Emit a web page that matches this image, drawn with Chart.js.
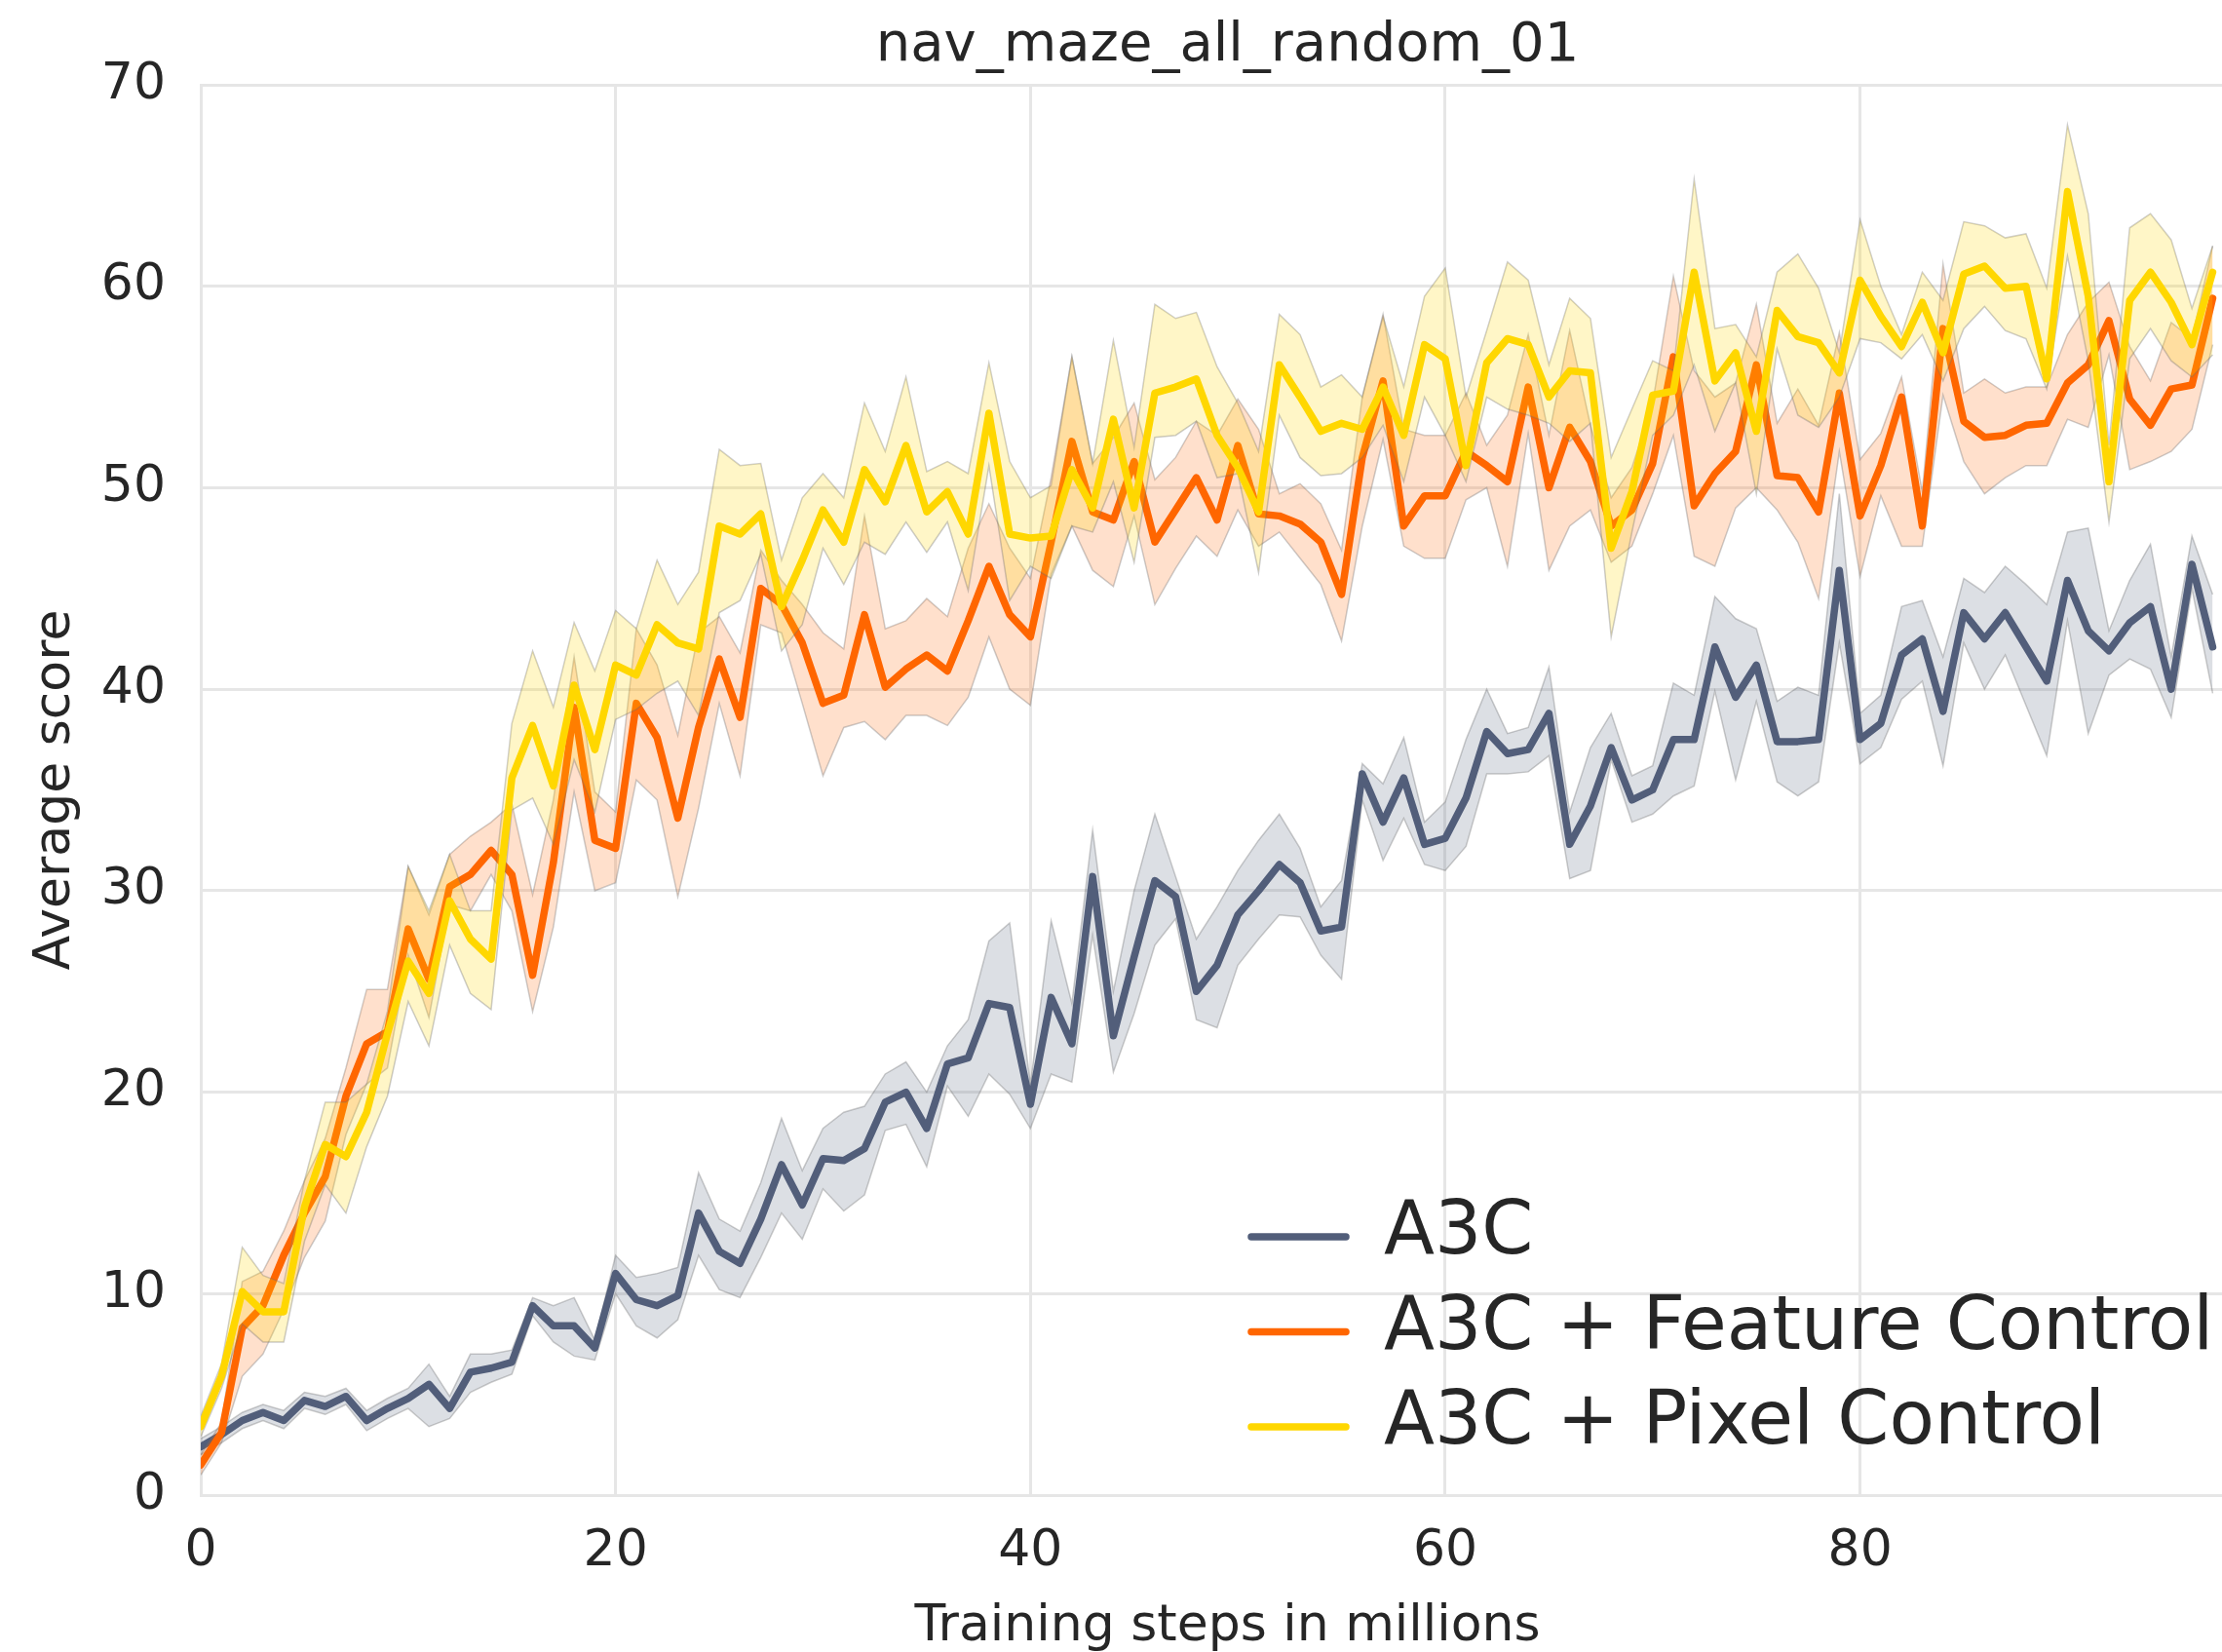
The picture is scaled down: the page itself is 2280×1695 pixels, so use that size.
<!DOCTYPE html>
<html>
<head>
<meta charset="utf-8">
<title>nav_maze_all_random_01</title>
<script src="https://cdn.jsdelivr.net/npm/chart.js@4.4.0/dist/chart.umd.min.js"></script>
<style>
  html, body { margin: 0; padding: 0; background: #ffffff; overflow: hidden; }
  #chart { display: block; }
</style>
</head>
<body>
<canvas id="chart" width="2330" height="1695"></canvas>
<script>
// Average score per million training steps (mean and band edges for each agent)
const a3cMean = [2.4, 3.0, 3.7, 4.1, 3.7, 4.7, 4.4, 4.9, 3.7, 4.3, 4.8, 5.5, 4.3, 6.1, 6.3, 6.6, 9.4, 8.4, 8.4, 7.3,
  11.0, 9.7, 9.4, 9.9, 14.0, 12.1, 11.5, 13.7, 16.4, 14.4, 16.7, 16.6, 17.2, 19.5, 20.0, 18.2, 21.4, 21.7, 24.4, 24.2,
  19.4, 24.7, 22.4, 30.7, 22.8, 26.7, 30.5, 29.7, 25.0, 26.3, 28.8, 30.0, 31.3, 30.4, 28.0, 28.2, 35.8, 33.4, 35.6, 32.3,
  32.6, 34.6, 37.9, 36.8, 37.0, 38.8, 32.3, 34.2, 37.1, 34.5, 35.0, 37.5, 37.5, 42.1, 39.6, 41.2, 37.4, 37.4, 37.5, 45.9,
  37.5, 38.3, 41.7, 42.5, 38.9, 43.8, 42.5, 43.8, 42.1, 40.4, 45.4, 42.9, 41.9, 43.3, 44.1, 40.0, 46.2, 42.1];
const a3cUpper = [2.8, 3.4, 4.1, 4.5, 4.2, 5.1, 4.9, 5.3, 4.2, 4.8, 5.3, 6.5, 4.9, 7.0, 7.0, 7.2, 9.8, 9.4, 9.8, 7.7,
  11.9, 10.8, 11.0, 11.3, 16.0, 13.7, 13.1, 15.5, 18.7, 16.1, 18.2, 19.0, 19.3, 20.9, 21.5, 20.0, 22.3, 23.6, 27.5, 28.4,
  20.4, 28.5, 24.4, 33.0, 25.0, 30.0, 33.8, 30.7, 27.6, 29.2, 31.0, 32.5, 33.8, 32.1, 29.2, 30.5, 36.3, 35.3, 37.6, 33.4,
  34.4, 37.5, 40.0, 37.8, 38.1, 41.1, 33.9, 37.1, 38.8, 35.7, 36.2, 40.3, 39.7, 44.6, 43.5, 43.0, 39.4, 40.1, 39.7, 49.7,
  38.8, 39.7, 44.1, 44.4, 41.6, 45.5, 44.8, 46.1, 45.2, 44.2, 47.8, 48.0, 42.9, 45.4, 47.2, 41.6, 47.6, 44.7];
const a3cLower = [2.0, 2.6, 3.3, 3.7, 3.3, 4.3, 4.0, 4.5, 3.2, 3.8, 4.3, 3.4, 3.8, 5.1, 5.6, 6.0, 8.9, 7.6, 6.9, 6.7,
  10.0, 8.4, 7.8, 8.7, 11.9, 10.2, 9.8, 11.8, 14.0, 12.7, 15.2, 14.1, 14.9, 18.1, 18.4, 16.3, 20.3, 18.8, 20.9, 19.9,
  18.2, 20.9, 20.5, 27.8, 21.0, 23.9, 27.3, 28.6, 23.6, 23.2, 26.3, 27.6, 28.8, 28.7, 26.8, 25.6, 34.5, 31.5, 33.6, 31.3,
  31.0, 32.2, 35.8, 35.8, 35.9, 36.7, 30.6, 31.0, 36.5, 33.4, 33.8, 34.7, 35.2, 39.9, 35.5, 39.4, 35.4, 34.7, 35.4, 42.3,
  36.3, 37.1, 39.5, 40.4, 36.2, 42.3, 40.0, 41.7, 39.2, 36.7, 43.4, 37.8, 40.7, 41.5, 41.0, 38.6, 45.0, 39.8];

const featureMean = [1.5, 3.1, 8.3, 9.4, 11.9, 14.0, 15.8, 19.8, 22.4, 23.0, 28.1, 25.6, 30.2, 30.8, 32.0, 30.8, 25.8, 31.4, 39.1, 32.5,
  32.1, 39.3, 37.6, 33.6, 38.1, 41.5, 38.6, 45.0, 44.2, 42.3, 39.3, 39.7, 43.7, 40.1, 41.0, 41.7, 40.9, 43.4, 46.1, 43.7,
  42.6, 47.3, 52.3, 48.8, 48.4, 51.3, 47.3, 48.9, 50.5, 48.4, 52.1, 48.7, 48.6, 48.2, 47.3, 44.7, 51.5, 55.3, 48.1, 49.6,
  49.6, 51.8, 51.1, 50.3, 55.0, 50.0, 53.0, 51.3, 48.1, 48.9, 51.2, 56.5, 49.1, 50.7, 51.8, 56.1, 50.6, 50.5, 48.8, 54.7,
  48.6, 51.1, 54.5, 48.1, 57.9, 53.3, 52.5, 52.6, 53.1, 53.2, 55.2, 56.1, 58.3, 54.4, 53.1, 54.9, 55.1, 59.4];
const featureUpper = [2.0, 3.6, 10.6, 11.1, 13.1, 15.6, 17.7, 21.2, 25.1, 25.1, 31.2, 28.8, 31.8, 32.7, 33.4, 34.3, 29.8, 34.5, 41.6, 34.9,
  33.9, 43.0, 41.2, 37.7, 42.8, 43.6, 41.8, 46.9, 45.4, 44.2, 42.8, 42.0, 48.6, 43.0, 43.4, 44.5, 43.6, 47.0, 49.2, 47.0,
  45.5, 50.5, 56.5, 51.2, 52.5, 54.2, 50.4, 51.5, 53.3, 52.6, 54.4, 52.9, 49.7, 50.2, 49.2, 46.9, 54.5, 58.6, 52.9, 52.6,
  52.6, 54.7, 52.1, 53.6, 57.6, 52.6, 57.8, 53.1, 49.5, 51.0, 54.2, 60.5, 55.8, 54.5, 55.2, 59.1, 53.2, 54.9, 53.1, 57.7,
  51.4, 52.7, 55.5, 49.8, 61.1, 54.7, 55.4, 54.7, 55.0, 55.0, 57.6, 59.2, 60.2, 57.0, 55.3, 58.2, 57.4, 62.0];
const featureLower = [1.0, 2.6, 5.9, 7.0, 9.2, 11.8, 13.6, 17.9, 20.4, 21.2, 26.8, 23.7, 29.3, 29.0, 30.8, 29.0, 24.0, 28.2, 34.9, 30.0,
  30.4, 35.5, 34.5, 29.7, 34.1, 39.3, 35.7, 43.2, 42.8, 39.3, 35.7, 38.1, 38.4, 37.5, 38.7, 38.7, 38.2, 39.6, 42.6, 40.0,
  39.2, 45.7, 48.1, 45.9, 45.1, 48.6, 44.2, 46.0, 47.6, 46.6, 48.9, 47.1, 47.8, 46.5, 45.2, 42.4, 48.1, 52.4, 47.1, 46.5,
  46.5, 49.4, 50.0, 46.1, 52.7, 45.9, 48.1, 48.9, 46.3, 47.1, 49.7, 52.6, 46.6, 46.1, 49.0, 50.0, 48.9, 47.3, 44.5, 51.8,
  45.6, 49.6, 47.1, 47.1, 54.6, 51.3, 49.7, 50.5, 51.1, 51.1, 53.4, 53.0, 56.6, 50.9, 51.3, 51.8, 52.9, 57.1];

const pixelMean = [3.4, 5.9, 10.1, 9.1, 9.1, 14.3, 17.4, 16.8, 19.0, 22.9, 26.5, 24.9, 29.5, 27.6, 26.6, 35.6, 38.2, 35.2, 40.2, 37.0,
  41.2, 40.7, 43.2, 42.3, 42.0, 48.1, 47.7, 48.7, 44.1, 46.4, 48.9, 47.3, 50.9, 49.3, 52.1, 48.8, 49.8, 47.7, 53.7, 47.7,
  47.5, 47.6, 50.9, 49.0, 53.4, 49.0, 54.7, 55.0, 55.4, 52.6, 51.0, 48.8, 56.1, 54.5, 52.8, 53.2, 52.9, 55.0, 52.6, 57.1,
  56.4, 51.1, 56.2, 57.4, 57.1, 54.5, 55.8, 55.7, 47.0, 49.8, 54.6, 54.8, 60.7, 55.3, 56.7, 52.8, 58.8, 57.5, 57.2, 55.7,
  60.3, 58.5, 57.0, 59.2, 56.7, 60.6, 61.0, 59.9, 60.0, 55.4, 64.7, 59.5, 50.3, 59.3, 60.7, 59.2, 57.1, 60.7];
const pixelUpper = [3.9, 6.5, 12.3, 10.9, 10.5, 15.6, 19.5, 19.5, 20.4, 24.0, 31.2, 29.0, 31.8, 29.0, 29.0, 38.3, 41.9, 39.1, 43.3, 40.9,
  43.9, 43.0, 46.4, 44.2, 45.8, 51.9, 51.1, 51.2, 46.4, 49.5, 50.7, 49.5, 54.2, 51.8, 55.5, 50.8, 51.3, 50.7, 56.2, 51.3,
  49.5, 50.1, 56.5, 51.2, 57.3, 52.0, 59.1, 58.4, 58.7, 56.0, 54.2, 51.8, 58.6, 57.6, 55.0, 55.6, 54.5, 58.5, 55.0, 59.5,
  60.9, 54.5, 57.8, 61.2, 60.3, 56.1, 59.4, 58.4, 51.5, 53.9, 56.3, 55.8, 65.3, 57.9, 58.1, 56.5, 60.7, 61.6, 59.9, 56.7,
  63.3, 60.0, 57.6, 60.7, 59.3, 63.2, 63.0, 62.4, 62.6, 59.9, 68.0, 63.6, 52.1, 62.9, 63.6, 62.3, 58.9, 62.0];
const pixelLower = [2.9, 5.3, 8.5, 7.6, 7.6, 12.6, 15.4, 14.0, 17.3, 19.8, 24.5, 22.3, 27.3, 24.9, 24.1, 34.0, 34.6, 32.3, 36.5, 33.9,
  38.5, 39.0, 39.8, 40.4, 38.7, 43.8, 44.4, 46.7, 41.9, 43.2, 47.0, 45.2, 47.3, 46.7, 48.3, 46.8, 48.3, 44.9, 51.1, 44.4,
  46.1, 45.5, 48.1, 47.8, 50.3, 46.3, 52.5, 52.6, 53.3, 50.5, 50.7, 45.8, 53.6, 51.5, 50.6, 50.7, 51.5, 53.1, 50.3, 54.5,
  52.6, 50.3, 54.5, 53.9, 53.6, 53.2, 52.3, 53.2, 42.6, 47.8, 52.6, 53.6, 56.1, 52.8, 55.2, 49.7, 56.9, 53.6, 53.0, 54.5,
  57.4, 57.2, 56.4, 57.6, 55.3, 57.9, 59.0, 57.8, 57.4, 54.9, 61.5, 56.3, 48.3, 56.4, 57.9, 56.3, 55.5, 56.6];

// training steps in millions, one sample per million
const steps = a3cMean.map((_, i) => i);
const xTicks = [0, 20, 40, 60, 80];
const yTicks = [0, 10, 20, 30, 40, 50, 60, 70];
const seriesLabels = ["A3C", "A3C + Feature Control", "A3C + Pixel Control"];

const lineColors = ["#525e7a", "#ff6600", "#ffd700"];
const bandColors = ["rgba(82, 94, 122, 0.2)", "rgba(255, 102, 0, 0.2)", "rgba(255, 215, 0, 0.22)"];
const bandEdge = "rgba(110, 110, 110, 0.35)";
const gridColor = "#e6e6e6";
const textColor = "#262626";
const fontFamily = "'DejaVu Sans', 'Liberation Sans', sans-serif";
const lineWidth = 7.5;

Chart.defaults.font.family = fontFamily;
Chart.defaults.color = textColor;

function toPoints(values) {
  return values.map((v, i) => ({ x: steps[i], y: v }));
}

// band (upper edge, lower edge filled to it) followed by the mean line
function seriesDatasets(idx, mean, upper, lower, order) {
  return [
    {
      label: seriesLabels[idx] + " upper",
      data: toPoints(upper),
      borderColor: bandEdge,
      borderWidth: 1.5,
      pointRadius: 0,
      fill: false,
      order: order + 2,
    },
    {
      label: seriesLabels[idx] + " lower",
      data: toPoints(lower),
      borderColor: bandEdge,
      borderWidth: 1.5,
      pointRadius: 0,
      fill: "-1",
      backgroundColor: bandColors[idx],
      order: order + 1,
    },
    {
      label: seriesLabels[idx],
      data: toPoints(mean),
      borderColor: lineColors[idx],
      borderWidth: lineWidth,
      borderJoinStyle: "round",
      borderCapStyle: "round",
      pointRadius: 0,
      fill: false,
      order: order,
    },
  ];
}

// legend sitting in the lower right of the plot
const insideLegend = {
  id: "insideLegend",
  afterDraw(chart) {
    const ctx = chart.ctx;
    const lineStart = 1284;
    const lineEnd = 1381;
    const textX = 1420;
    const firstBaseline = 1286;
    const rowGap = 97.5;
    ctx.save();
    ctx.font = "76px " + fontFamily;
    ctx.fillStyle = textColor;
    ctx.textAlign = "left";
    ctx.textBaseline = "alphabetic";
    ctx.lineCap = "round";
    ctx.lineWidth = lineWidth;
    seriesLabels.forEach((label, i) => {
      const base = firstBaseline + i * rowGap;
      ctx.strokeStyle = lineColors[i];
      ctx.beginPath();
      ctx.moveTo(lineStart, base - 17);
      ctx.lineTo(lineEnd, base - 17);
      ctx.stroke();
      ctx.fillText(label, textX, base);
    });
    ctx.restore();
  },
};

const datasets = [].concat(
  seriesDatasets(0, a3cMean, a3cUpper, a3cLower, 7),
  seriesDatasets(1, featureMean, featureUpper, featureLower, 4),
  seriesDatasets(2, pixelMean, pixelUpper, pixelLower, 1)
);

const ctx = document.getElementById("chart");
window.myChart = new Chart(ctx, {
  type: "line",
  data: { datasets: datasets },
  plugins: [insideLegend],
  options: {
    responsive: false,
    animation: false,
    devicePixelRatio: 1,
    layout: { padding: { left: 0, right: 17, top: 0, bottom: 0 } },
    plugins: {
      legend: { display: false },
      tooltip: { enabled: false },
      title: {
        display: true,
        text: "nav_maze_all_random_01",
        fullSize: false,
        color: textColor,
        font: { size: 56, weight: "normal", lineHeight: 1 },
        padding: { top: 19, bottom: 12 },
      },
    },
    scales: {
      x: {
        type: "linear",
        min: 0,
        max: 99,
        afterBuildTicks: (axis) => { axis.ticks = xTicks.map((v) => ({ value: v })); },
        afterFit: (scale) => { scale.height = 161; },
        grid: { color: gridColor, lineWidth: 3, drawTicks: false },
        border: { color: gridColor, width: 3 },
        ticks: { padding: 27, maxRotation: 0, color: textColor, font: { size: 52 } },
        title: {
          display: true,
          text: "Training steps in millions",
          color: textColor,
          font: { size: 52, lineHeight: 1 },
          padding: { top: 0, bottom: 0 },
        },
      },
      y: {
        type: "linear",
        min: 0,
        max: 70,
        afterBuildTicks: (axis) => { axis.ticks = yTicks.map((v) => ({ value: v })); },
        afterFit: (scale) => { scale.width = 206; },
        grid: { color: gridColor, lineWidth: 3, drawTicks: false },
        border: { color: gridColor, width: 3 },
        ticks: { padding: 36, color: textColor, font: { size: 52 } },
        title: {
          display: true,
          text: "Average score",
          color: textColor,
          font: { size: 52, lineHeight: 1 },
          padding: { top: 31, bottom: 0 },
        },
      },
    },
  },
});
</script>
</body>
</html>
